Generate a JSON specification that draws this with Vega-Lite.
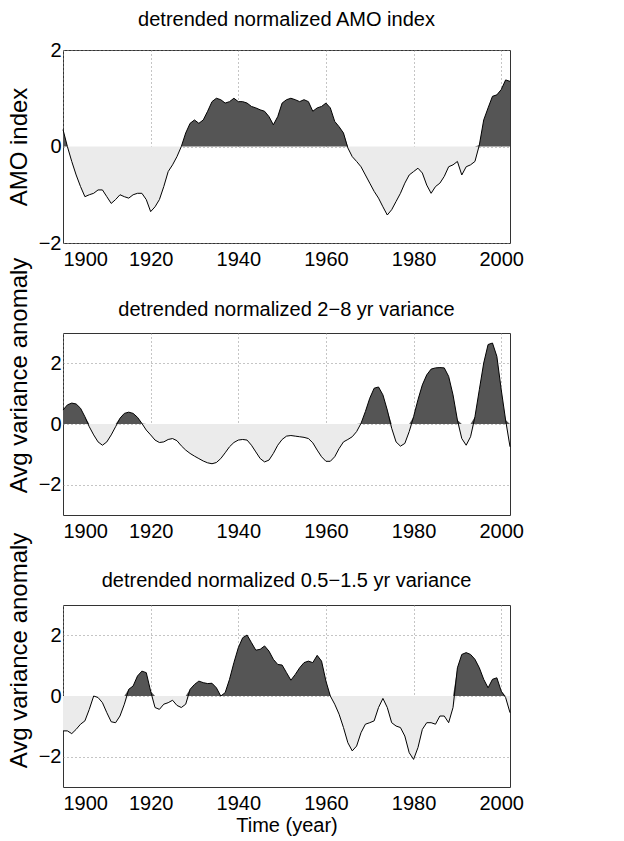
{
  "$schema": "https://vega.github.io/schema/vega-lite/v6.json",
  "background": "white",
  "padding": {"left": 6, "top": 9, "right": 5, "bottom": 5},
  "spacing": 90,
  "bounds": "flush",
  "config": {
    "font": "Liberation Sans",
    "view": {"stroke": "#333333", "strokeWidth": 1},
    "axis": {
      "labelFont": "Liberation Sans",
      "titleFont": "Liberation Sans",
      "labelFontSize": 20,
      "labelColor": "black",
      "titleColor": "black",
      "titleFontWeight": "normal",
      "domain": false,
      "ticks": false,
      "grid": true,
      "gridColor": "#8a8a8a",
      "gridDash": [1, 3],
      "gridWidth": 1,
      "gridOpacity": 1
    },
    "title": {"font": "Liberation Sans", "fontSize": 20, "fontWeight": "normal", "color": "black", "frame": "group", "baseline": "alphabetic"}
  },
  "datasets": {
    "amo": [
      {"year": 1900, "v": 0.35}, {"year": 1901, "v": 0.0}, {"year": 1902, "v": -0.31}, {"year": 1903, "v": -0.59},
      {"year": 1904, "v": -0.83}, {"year": 1905, "v": -1.04}, {"year": 1906, "v": -1.0}, {"year": 1907, "v": -0.97},
      {"year": 1908, "v": -0.9}, {"year": 1909, "v": -0.9}, {"year": 1910, "v": -1.04}, {"year": 1911, "v": -1.18},
      {"year": 1912, "v": -1.1}, {"year": 1913, "v": -1.0}, {"year": 1914, "v": -1.04}, {"year": 1915, "v": -1.07},
      {"year": 1916, "v": -1.0}, {"year": 1917, "v": -0.97}, {"year": 1918, "v": -0.97}, {"year": 1919, "v": -1.1},
      {"year": 1920, "v": -1.35}, {"year": 1921, "v": -1.25}, {"year": 1922, "v": -1.1}, {"year": 1923, "v": -0.83},
      {"year": 1924, "v": -0.52}, {"year": 1925, "v": -0.38}, {"year": 1926, "v": -0.21}, {"year": 1927, "v": 0.0},
      {"year": 1928, "v": 0.28}, {"year": 1929, "v": 0.48}, {"year": 1930, "v": 0.55}, {"year": 1931, "v": 0.48},
      {"year": 1932, "v": 0.55}, {"year": 1933, "v": 0.73}, {"year": 1934, "v": 0.93}, {"year": 1935, "v": 1.0},
      {"year": 1936, "v": 0.97}, {"year": 1937, "v": 0.9}, {"year": 1938, "v": 0.93}, {"year": 1939, "v": 1.0},
      {"year": 1940, "v": 0.93}, {"year": 1941, "v": 0.93}, {"year": 1942, "v": 0.9}, {"year": 1943, "v": 0.83},
      {"year": 1944, "v": 0.8}, {"year": 1945, "v": 0.76}, {"year": 1946, "v": 0.73}, {"year": 1947, "v": 0.62},
      {"year": 1948, "v": 0.45}, {"year": 1949, "v": 0.62}, {"year": 1950, "v": 0.9}, {"year": 1951, "v": 0.97},
      {"year": 1952, "v": 1.0}, {"year": 1953, "v": 0.97}, {"year": 1954, "v": 0.93}, {"year": 1955, "v": 0.97},
      {"year": 1956, "v": 0.93}, {"year": 1957, "v": 0.73}, {"year": 1958, "v": 0.8}, {"year": 1959, "v": 0.83},
      {"year": 1960, "v": 0.9}, {"year": 1961, "v": 0.8}, {"year": 1962, "v": 0.52}, {"year": 1963, "v": 0.41},
      {"year": 1964, "v": 0.28}, {"year": 1965, "v": -0.03}, {"year": 1966, "v": -0.21}, {"year": 1967, "v": -0.31},
      {"year": 1968, "v": -0.42}, {"year": 1969, "v": -0.59}, {"year": 1970, "v": -0.76}, {"year": 1971, "v": -0.93},
      {"year": 1972, "v": -1.07}, {"year": 1973, "v": -1.25}, {"year": 1974, "v": -1.42}, {"year": 1975, "v": -1.31},
      {"year": 1976, "v": -1.14}, {"year": 1977, "v": -0.97}, {"year": 1978, "v": -0.76}, {"year": 1979, "v": -0.59},
      {"year": 1980, "v": -0.52}, {"year": 1981, "v": -0.45}, {"year": 1982, "v": -0.55}, {"year": 1983, "v": -0.8},
      {"year": 1984, "v": -0.97}, {"year": 1985, "v": -0.83}, {"year": 1986, "v": -0.76}, {"year": 1987, "v": -0.62},
      {"year": 1988, "v": -0.42}, {"year": 1989, "v": -0.38}, {"year": 1990, "v": -0.31}, {"year": 1991, "v": -0.59},
      {"year": 1992, "v": -0.42}, {"year": 1993, "v": -0.38}, {"year": 1994, "v": -0.31}, {"year": 1995, "v": 0.03},
      {"year": 1996, "v": 0.55}, {"year": 1997, "v": 0.8}, {"year": 1998, "v": 1.04}, {"year": 1999, "v": 1.07},
      {"year": 2000, "v": 1.18}, {"year": 2001, "v": 1.38}, {"year": 2002, "v": 1.35}
    ],
    "v28": [
      {"year": 1900, "v": 0.46}, {"year": 1901, "v": 0.63}, {"year": 1902, "v": 0.69}, {"year": 1903, "v": 0.66},
      {"year": 1904, "v": 0.52}, {"year": 1905, "v": 0.24}, {"year": 1906, "v": -0.09}, {"year": 1907, "v": -0.36},
      {"year": 1908, "v": -0.59}, {"year": 1909, "v": -0.7}, {"year": 1910, "v": -0.59}, {"year": 1911, "v": -0.36},
      {"year": 1912, "v": -0.09}, {"year": 1913, "v": 0.19}, {"year": 1914, "v": 0.35}, {"year": 1915, "v": 0.39},
      {"year": 1916, "v": 0.35}, {"year": 1917, "v": 0.22}, {"year": 1918, "v": 0.02}, {"year": 1919, "v": -0.2},
      {"year": 1920, "v": -0.36}, {"year": 1921, "v": -0.53}, {"year": 1922, "v": -0.61}, {"year": 1923, "v": -0.59},
      {"year": 1924, "v": -0.51}, {"year": 1925, "v": -0.48}, {"year": 1926, "v": -0.55}, {"year": 1927, "v": -0.72},
      {"year": 1928, "v": -0.86}, {"year": 1929, "v": -0.97}, {"year": 1930, "v": -1.06}, {"year": 1931, "v": -1.14},
      {"year": 1932, "v": -1.22}, {"year": 1933, "v": -1.28}, {"year": 1934, "v": -1.31}, {"year": 1935, "v": -1.27},
      {"year": 1936, "v": -1.14}, {"year": 1937, "v": -0.95}, {"year": 1938, "v": -0.75}, {"year": 1939, "v": -0.61},
      {"year": 1940, "v": -0.53}, {"year": 1941, "v": -0.51}, {"year": 1942, "v": -0.53}, {"year": 1943, "v": -0.7},
      {"year": 1944, "v": -0.92}, {"year": 1945, "v": -1.14}, {"year": 1946, "v": -1.25}, {"year": 1947, "v": -1.19},
      {"year": 1948, "v": -0.97}, {"year": 1949, "v": -0.7}, {"year": 1950, "v": -0.51}, {"year": 1951, "v": -0.4},
      {"year": 1952, "v": -0.38}, {"year": 1953, "v": -0.4}, {"year": 1954, "v": -0.42}, {"year": 1955, "v": -0.44},
      {"year": 1956, "v": -0.48}, {"year": 1957, "v": -0.62}, {"year": 1958, "v": -0.86}, {"year": 1959, "v": -1.08},
      {"year": 1960, "v": -1.23}, {"year": 1961, "v": -1.23}, {"year": 1962, "v": -1.08}, {"year": 1963, "v": -0.81},
      {"year": 1964, "v": -0.59}, {"year": 1965, "v": -0.51}, {"year": 1966, "v": -0.42}, {"year": 1967, "v": -0.25},
      {"year": 1968, "v": 0.02}, {"year": 1969, "v": 0.41}, {"year": 1970, "v": 0.85}, {"year": 1971, "v": 1.18},
      {"year": 1972, "v": 1.22}, {"year": 1973, "v": 0.96}, {"year": 1974, "v": 0.46}, {"year": 1975, "v": -0.14},
      {"year": 1976, "v": -0.59}, {"year": 1977, "v": -0.73}, {"year": 1978, "v": -0.64}, {"year": 1979, "v": -0.25},
      {"year": 1980, "v": 0.24}, {"year": 1981, "v": 0.8}, {"year": 1982, "v": 1.29}, {"year": 1983, "v": 1.62},
      {"year": 1984, "v": 1.81}, {"year": 1985, "v": 1.85}, {"year": 1986, "v": 1.86}, {"year": 1987, "v": 1.85},
      {"year": 1988, "v": 1.57}, {"year": 1989, "v": 0.96}, {"year": 1990, "v": 0.13}, {"year": 1991, "v": -0.48},
      {"year": 1992, "v": -0.7}, {"year": 1993, "v": -0.42}, {"year": 1994, "v": 0.24}, {"year": 1995, "v": 1.13},
      {"year": 1996, "v": 2.01}, {"year": 1997, "v": 2.62}, {"year": 1998, "v": 2.67}, {"year": 1999, "v": 2.23},
      {"year": 2000, "v": 1.13}, {"year": 2001, "v": 0.13}, {"year": 2002, "v": -0.75}
    ],
    "v05": [
      {"year": 1900, "v": -1.15}, {"year": 1901, "v": -1.15}, {"year": 1902, "v": -1.24}, {"year": 1903, "v": -1.1},
      {"year": 1904, "v": -0.93}, {"year": 1905, "v": -0.82}, {"year": 1906, "v": -0.44}, {"year": 1907, "v": 0.0},
      {"year": 1908, "v": -0.05}, {"year": 1909, "v": -0.22}, {"year": 1910, "v": -0.55}, {"year": 1911, "v": -0.85},
      {"year": 1912, "v": -0.88}, {"year": 1913, "v": -0.66}, {"year": 1914, "v": -0.27}, {"year": 1915, "v": 0.22},
      {"year": 1916, "v": 0.33}, {"year": 1917, "v": 0.66}, {"year": 1918, "v": 0.82}, {"year": 1919, "v": 0.77},
      {"year": 1920, "v": 0.16}, {"year": 1921, "v": -0.38}, {"year": 1922, "v": -0.44}, {"year": 1923, "v": -0.27},
      {"year": 1924, "v": -0.22}, {"year": 1925, "v": -0.14}, {"year": 1926, "v": -0.31}, {"year": 1927, "v": -0.38},
      {"year": 1928, "v": -0.27}, {"year": 1929, "v": 0.22}, {"year": 1930, "v": 0.38}, {"year": 1931, "v": 0.49},
      {"year": 1932, "v": 0.44}, {"year": 1933, "v": 0.41}, {"year": 1934, "v": 0.42}, {"year": 1935, "v": 0.27},
      {"year": 1936, "v": 0.0}, {"year": 1937, "v": 0.11}, {"year": 1938, "v": 0.55}, {"year": 1939, "v": 1.1},
      {"year": 1940, "v": 1.59}, {"year": 1941, "v": 1.92}, {"year": 1942, "v": 2.01}, {"year": 1943, "v": 1.76},
      {"year": 1944, "v": 1.51}, {"year": 1945, "v": 1.54}, {"year": 1946, "v": 1.65}, {"year": 1947, "v": 1.48},
      {"year": 1948, "v": 1.21}, {"year": 1949, "v": 1.04}, {"year": 1950, "v": 1.02}, {"year": 1951, "v": 0.77},
      {"year": 1952, "v": 0.52}, {"year": 1953, "v": 0.71}, {"year": 1954, "v": 0.93}, {"year": 1955, "v": 1.1},
      {"year": 1956, "v": 1.15}, {"year": 1957, "v": 1.1}, {"year": 1958, "v": 1.34}, {"year": 1959, "v": 1.15},
      {"year": 1960, "v": 0.49}, {"year": 1961, "v": 0.0}, {"year": 1962, "v": -0.27}, {"year": 1963, "v": -0.6},
      {"year": 1964, "v": -1.04}, {"year": 1965, "v": -1.54}, {"year": 1966, "v": -1.81}, {"year": 1967, "v": -1.65},
      {"year": 1968, "v": -1.21}, {"year": 1969, "v": -0.93}, {"year": 1970, "v": -0.88}, {"year": 1971, "v": -0.82},
      {"year": 1972, "v": -0.38}, {"year": 1973, "v": -0.08}, {"year": 1974, "v": -0.38}, {"year": 1975, "v": -0.88},
      {"year": 1976, "v": -0.99}, {"year": 1977, "v": -1.04}, {"year": 1978, "v": -1.32}, {"year": 1979, "v": -1.87},
      {"year": 1980, "v": -2.09}, {"year": 1981, "v": -1.7}, {"year": 1982, "v": -1.1}, {"year": 1983, "v": -0.88},
      {"year": 1984, "v": -0.88}, {"year": 1985, "v": -0.93}, {"year": 1986, "v": -0.66}, {"year": 1987, "v": -0.66},
      {"year": 1988, "v": -0.88}, {"year": 1989, "v": -0.38}, {"year": 1990, "v": 0.93}, {"year": 1991, "v": 1.37},
      {"year": 1992, "v": 1.43}, {"year": 1993, "v": 1.37}, {"year": 1994, "v": 1.21}, {"year": 1995, "v": 0.93},
      {"year": 1996, "v": 0.55}, {"year": 1997, "v": 0.27}, {"year": 1998, "v": 0.55}, {"year": 1999, "v": 0.6},
      {"year": 2000, "v": 0.16}, {"year": 2001, "v": -0.05}, {"year": 2002, "v": -0.55}
    ]
  },
  "vconcat": [
    {
      "width": 447, "height": 193,
      "data": {"name": "amo"},
      "title": {"text": "detrended normalized AMO index", "offset": 10},
      "encoding": {
        "x": {"field": "year", "type": "quantitative", "scale": {"domain": [1900, 2002], "nice": false, "zero": false},
              "axis": {"values": [1900, 1920, 1940, 1960, 1980, 2000], "format": "d", "labelPadding": 6, "title": null, "grid": true}}
      },
      "layer": [
        {"mark": {"type": "area", "color": "#ebebeb"},
         "encoding": {"y": {"field": "v", "type": "quantitative", "scale": {"domain": [-2, 0], "range": [193, 96.5], "clamp": true, "nice": false, "zero": false}, "axis": null}, "y2": {"datum": 0}}},
        {"mark": {"type": "area", "color": "#555555"},
         "encoding": {"y": {"field": "v", "type": "quantitative", "scale": {"domain": [0, 2], "range": [96.5, 0], "clamp": true, "nice": false, "zero": false}, "axis": null}, "y2": {"datum": 0}}},
        {"mark": {"type": "rule", "color": "#aaaaaa", "strokeWidth": 1},
         "encoding": {"y": {"datum": 0, "type": "quantitative", "scale": {"domain": [-2, 2], "nice": false}, "axis": null}}},
        {"mark": {"type": "line", "color": "black", "strokeWidth": 1},
         "encoding": {"y": {"field": "v", "type": "quantitative", "scale": {"domain": [-2, 2], "nice": false, "zero": false},
                            "axis": {"orient": "left", "values": [-2, 0, 2], "labelPadding": 2, "grid": true, "title": "AMO index", "titleFontSize": 24, "titlePadding": 7}}}}
      ],
      "resolve": {"scale": {"y": "independent"}}
    },
    {
      "width": 447, "height": 182,
      "data": {"name": "v28"},
      "title": {"text": "detrended normalized 2−8 yr variance", "offset": -63},
      "encoding": {
        "x": {"field": "year", "type": "quantitative", "scale": {"domain": [1900, 2002], "nice": false, "zero": false},
              "axis": {"values": [1900, 1920, 1940, 1960, 1980, 2000], "format": "d", "labelPadding": 6, "title": null, "grid": true}}
      },
      "layer": [
        {"mark": {"type": "area", "color": "#ebebeb"},
         "encoding": {"y": {"field": "v", "type": "quantitative", "scale": {"domain": [-3, 0], "range": [182, 91], "clamp": true, "nice": false, "zero": false}, "axis": null}, "y2": {"datum": 0}}},
        {"mark": {"type": "area", "color": "#555555"},
         "encoding": {"y": {"field": "v", "type": "quantitative", "scale": {"domain": [0, 3], "range": [91, 0], "clamp": true, "nice": false, "zero": false}, "axis": null}, "y2": {"datum": 0}}},
        {"mark": {"type": "rule", "color": "#555555", "strokeWidth": 1},
         "encoding": {"y": {"datum": 0, "type": "quantitative", "scale": {"domain": [-3, 3], "nice": false}, "axis": null}}},
        {"mark": {"type": "line", "color": "black", "strokeWidth": 1},
         "encoding": {"y": {"field": "v", "type": "quantitative", "scale": {"domain": [-3, 3], "nice": false, "zero": false},
                            "axis": {"orient": "left", "values": [-2, 0, 2], "labelPadding": 2, "grid": true, "title": "Avg variance anomaly", "titleFontSize": 24, "titlePadding": 7, "titleY": 42}}}}
      ],
      "resolve": {"scale": {"y": "independent"}}
    },
    {
      "width": 447, "height": 182,
      "data": {"name": "v05"},
      "title": {"text": "detrended normalized 0.5−1.5 yr variance", "offset": -59},
      "encoding": {
        "x": {"field": "year", "type": "quantitative", "scale": {"domain": [1900, 2002], "nice": false, "zero": false},
              "axis": {"values": [1900, 1920, 1940, 1960, 1980, 2000], "format": "d", "labelPadding": 6, "grid": true, "title": "Time (year)", "titleFontSize": 20, "titlePadding": 2}}
      },
      "layer": [
        {"mark": {"type": "area", "color": "#ebebeb"},
         "encoding": {"y": {"field": "v", "type": "quantitative", "scale": {"domain": [-3, 0], "range": [182, 91], "clamp": true, "nice": false, "zero": false}, "axis": null}, "y2": {"datum": 0}}},
        {"mark": {"type": "area", "color": "#555555"},
         "encoding": {"y": {"field": "v", "type": "quantitative", "scale": {"domain": [0, 3], "range": [91, 0], "clamp": true, "nice": false, "zero": false}, "axis": null}, "y2": {"datum": 0}}},
        {"mark": {"type": "rule", "color": "#555555", "strokeWidth": 1},
         "encoding": {"y": {"datum": 0, "type": "quantitative", "scale": {"domain": [-3, 3], "nice": false}, "axis": null}}},
        {"mark": {"type": "line", "color": "black", "strokeWidth": 1},
         "encoding": {"y": {"field": "v", "type": "quantitative", "scale": {"domain": [-3, 3], "nice": false, "zero": false},
                            "axis": {"orient": "left", "values": [-2, 0, 2], "labelPadding": 2, "grid": true, "title": "Avg variance anomaly", "titleFontSize": 24, "titlePadding": 7, "titleY": 45}}}}
      ],
      "resolve": {"scale": {"y": "independent"}}
    }
  ]
}
